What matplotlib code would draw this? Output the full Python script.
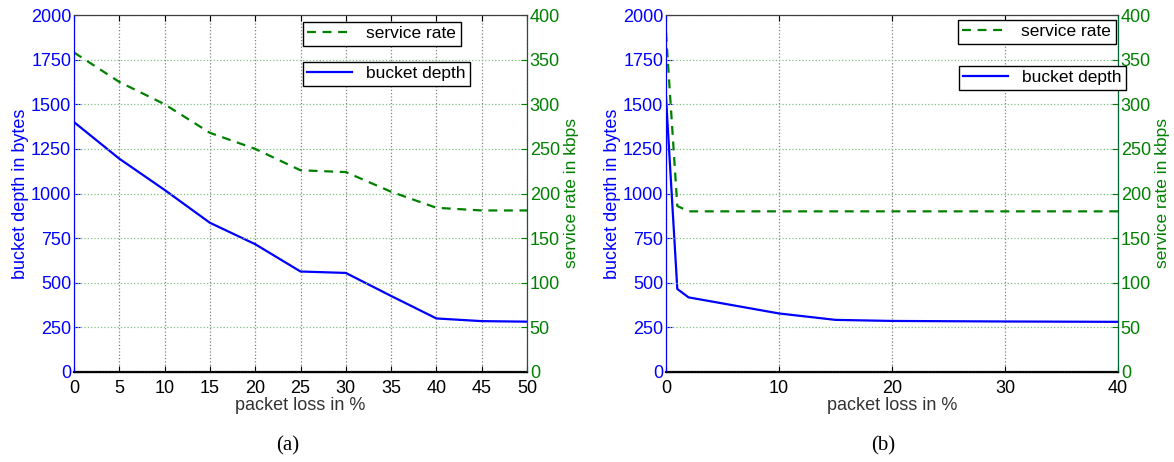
import numpy as np
import matplotlib.pyplot as plt
from matplotlib.lines import Line2D

plt.rcParams['font.family'] = ['Liberation Sans', 'DejaVu Sans']

BLUE = '#0000ff'
GREEN = '#008000'

# (a) packet loss sweep 0..50 %
loss_a = [0, 5, 10, 15, 20, 25, 30, 35, 40, 45, 50]
depth_a = [1400, 1195, 1020, 836, 716, 563, 555, 426, 300, 285, 282]
rate_a = [358, 325, 300, 268, 250, 226, 224, 202, 184, 181, 181]

# (b) packet loss sweep 0..40 %
loss_b = [0, 1, 2, 10, 15, 20, 30, 40]
depth_b = [1540, 465, 418, 328, 292, 286, 283, 281]
loss_b_rate = [0, 1, 2, 10, 20, 30, 40]
rate_b = [380, 186, 180, 180, 180, 180, 180]

fig = plt.figure(figsize=(11.74, 4.62), dpi=100)
W, H = 1174, 462


def panel(x0, x1, loss, depth, loss_r, rate, xticks, xmax, leg1, leg2, tag, tagx):
    ax = fig.add_axes([x0 / W, 1 - 372 / H, (x1 - x0) / W, 357 / H])
    ax2 = ax.twinx()
    ax.plot(loss, depth, color=BLUE, lw=1.6)
    ax2.plot(loss_r, rate, color=GREEN, lw=1.6, ls=(0, (4, 3)))
    ax.set_xlim(0, xmax)
    ax.set_ylim(0, 2000)
    ax2.set_ylim(0, 400)
    ax.set_xticks(xticks)
    ax.set_yticks(np.arange(0, 2001, 250))
    ax2.set_yticks(np.arange(0, 401, 50))
    ax.grid(axis='x', ls=':', color='#808080', lw=0.9)
    ax2.grid(axis='y', ls=':', color='#80c080', lw=0.9)
    ax.tick_params(axis='x', direction='in', top=True, labelsize=13,
                   labelcolor='black', length=4, pad=6)
    ax.tick_params(axis='y', direction='in', colors=BLUE, labelsize=13,
                   length=4, pad=2)
    ax2.tick_params(axis='y', direction='in', colors=GREEN, labelsize=13,
                    length=4, pad=2)
    ax.spines['left'].set_color(BLUE)
    ax.spines['bottom'].set_color('black')
    ax.spines['bottom'].set_linewidth(1.6)
    ax2.spines['right'].set_color('#006633')
    ax2.spines['left'].set_color(BLUE)
    ax2.spines['top'].set_color('#404040')
    ax.set_ylabel('bucket depth in bytes', color=BLUE, fontsize=13, labelpad=1)
    ax2.set_ylabel('service rate in kbps', color=GREEN, fontsize=12.5, labelpad=3)
    ax.set_xlabel('packet loss in %', fontsize=13, color='#333333', labelpad=0)

    h_rate = Line2D([], [], color=GREEN, lw=1.6, ls=(0, (4, 3)))
    h_depth = Line2D([], [], color=BLUE, lw=1.6)
    for h, lab, (lx, ly) in [(h_rate, 'service rate', leg1), (h_depth, 'bucket depth', leg2)]:
        lg = fig.legend([h], [lab], loc='upper left',
                        bbox_to_anchor=(lx / W, 1 - ly / H), fontsize=12.5,
                        fancybox=False, framealpha=1, edgecolor='black',
                        borderpad=0.25, handlelength=2.6, handletextpad=0.8,
                        borderaxespad=0)
        lg.get_frame().set_linewidth(1.0)
    fig.text(tagx / W, 1 - 446 / H, tag, family=['Liberation Serif'],
             fontsize=15, ha='center', va='center')
    return ax, ax2


panel(74, 527, loss_a, depth_a, loss_a, rate_a, np.arange(0, 51, 5), 50,
      (303, 22), (303, 62), '(a)', 288)
panel(666, 1118, loss_b, depth_b, loss_b_rate, rate_b, np.arange(0, 41, 10), 40,
      (958, 20), (959, 66), '(b)', 883)

fig.savefig('out.png', dpi=100)
